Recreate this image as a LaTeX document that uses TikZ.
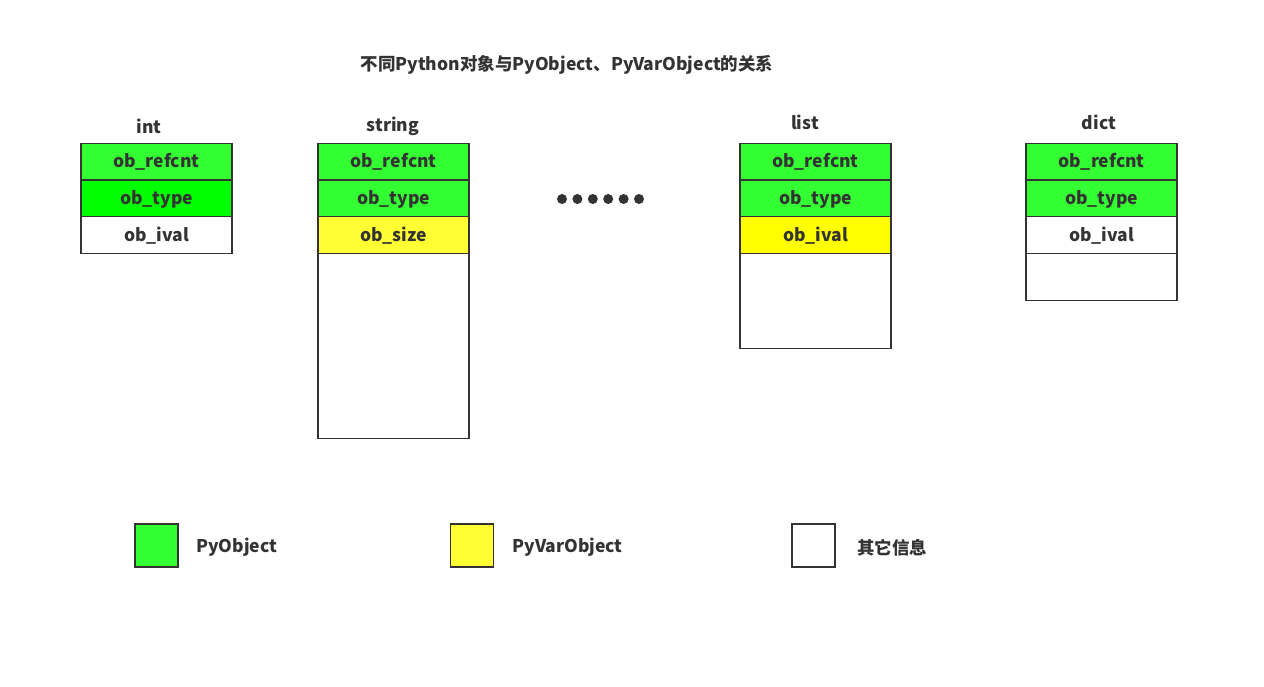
\documentclass[tikz,border=0pt]{standalone}
\usepackage{fontspec}
\setmainfont{Noto Sans CJK SC}
\usepackage{xcolor}
\usepackage{tikz}
\usetikzlibrary{positioning}

\definecolor{pygreen}{HTML}{33FF33}
\definecolor{puregreen}{HTML}{00FF00}
\definecolor{pyyellow}{HTML}{FFFF33}
\definecolor{pureyellow}{HTML}{FFFF00}
\definecolor{edge}{HTML}{333333}

\begin{document}
\begin{tikzpicture}[x=1pt,y=-1pt,
  font=\fontsize{17.5}{20}\selectfont\bfseries,
  text=edge,
  cell/.style={rectangle,draw=edge,line width=1.3pt,outer sep=0pt,minimum width=151pt,minimum height=36.7pt,inner sep=0pt,text height=16pt,text depth=3.5pt},
  green cell/.style={cell,fill=pygreen},
  yellow cell/.style={cell,fill=pyyellow},
  key box/.style={rectangle,draw=edge,line width=1.3pt,minimum width=43pt,minimum height=43pt,inner sep=0pt},
  key text/.style={yshift=-2pt},
  dot/.style={circle,fill=edge,minimum size=10pt,inner sep=0pt}]

  \useasboundingbox (0,0) rectangle (1264,686);

  \node (title) at (567,65) {不同Python对象与PyObject、PyVarObject的关系};

  % int
  \node (int) at (149,126) {int};
  \node[green cell] (int1) at (156.5,161.5) {ob\_refcnt};
  \node[cell,fill=puregreen,below=0pt of int1] (int2) {ob\_type};
  \node[cell,below=0pt of int2] (int3) {ob\_ival};

  % string
  \node (str) at (393,126) {string};
  \node[green cell] (str1) at (393.5,161.5) {ob\_refcnt};
  \node[green cell,below=0pt of str1] (str2) {ob\_type};
  \node[yellow cell,below=0pt of str2] (str3) {ob\_size};
  \node[cell,minimum height=185pt,below=0pt of str3] (str4) {};

  \foreach \i in {0,...,5}
    \node[dot] (dot\i) at (562+15.4*\i,199) {};

  % list
  \node (list) at (805,122) {list};
  \node[green cell] (list1) at (815.5,161.5) {ob\_refcnt};
  \node[green cell,below=0pt of list1] (list2) {ob\_type};
  \node[cell,fill=pureyellow,below=0pt of list2] (list3) {ob\_ival};
  \node[cell,minimum height=95pt,below=0pt of list3] (list4) {};

  % dict
  \node (dict) at (1099,122) {dict};
  \node[green cell] (dict1) at (1101.5,161.5) {ob\_refcnt};
  \node[green cell,below=0pt of dict1] (dict2) {ob\_type};
  \node[cell,below=0pt of dict2] (dict3) {ob\_ival};
  \node[cell,minimum height=47pt,below=0pt of dict3] (dict4) {};

  % legend
  \node[key box,fill=pygreen] (k1) at (156.5,545.5) {};
  \node[key text,right=14pt of k1] (k1t) {PyObject};
  \node[key box,fill=pyyellow] (k2) at (472,545.5) {};
  \node[key text,right=15pt of k2] (k2t) {PyVarObject};
  \node[key box] (k3) at (813.5,545.5) {};
  \node[key text,right=18pt of k3] (k3t) {其它信息};

\end{tikzpicture}
\end{document}
